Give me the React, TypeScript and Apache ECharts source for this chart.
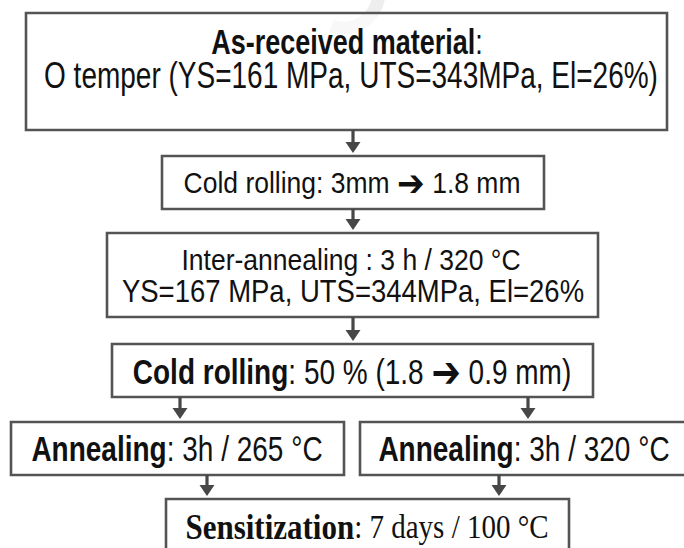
import React, { useEffect, useRef } from "react";
import * as echarts from "echarts";

// ---- content (flowchart steps) ----
const boldParts = ["As-received material", "", "", "Cold rolling", "Annealing", "Annealing", "Sensitization"];
const plainParts = [
  ":",
  "Cold rolling: 3mm ➔ 1.8 mm",
  "Inter-annealing : 3 h / 320 °C",
  ": 50 % (1.8 ➔ 0.9 mm)",
  ": 3h / 265 °C",
  ": 3h / 320 °C",
  ": 7 days / 100 °C",
];
const secondLines = [
  "O temper (YS=161 MPa, UTS=343MPa, El=26%)",
  "",
  "YS=167 MPa, UTS=344MPa, El=26%",
  "",
  "",
  "",
  "",
];
// links: [from step, to step]
const links = [
  [0, 1],
  [1, 2],
  [2, 3],
  [3, 4],
  [3, 5],
  [4, 6],
  [5, 6],
];

// ---- layout (positions / sizes) ----
const boxRects = [
  [26, 13, 641, 117],
  [162, 156, 382, 53],
  [107, 233, 491, 84],
  [112, 344, 481, 53],
  [11, 422, 333, 53],
  [360, 422, 340, 53],
  [166, 499, 403, 70],
];
// [x, y, fontSize, scaleY] for first line
const line1Pos = [
  [347, 42, 27, 1.3],
  [352, 183, 26.5, 1.12],
  [351, 259, 26.5, 1.14],
  [352, 372, 28, 1.24],
  [177, 449, 28, 1.24],
  [524, 449, 28, 1.24],
  [367, 527, 30, 1.15],
];
const line2Pos = [
  [351, 76, 28, 1.3],
  null,
  [353, 291, 27.5, 1.14],
  null,
  null,
  null,
  null,
];
// arrow x positions for each link
const linkX = [353, 353, 353, 180, 528, 207, 499];

const SANS = "'Liberation Sans', Arial, Helvetica, sans-serif";
const SERIF = "'Liberation Serif', 'Times New Roman', serif";
const BORDER = "#545454";
const ARROW = "#474747";

function richText(bold: string, plain: string) {
  let s = bold ? `{b|${bold}}` : "";
  const parts = plain.split("➔");
  parts.forEach((p, i) => {
    if (i > 0) s += "{a|➔}";
    if (p) s += `{n|${p}}`;
  });
  return s;
}

export default function App() {
  const ref = useRef<HTMLDivElement>(null);

  useEffect(() => {
    if (!ref.current) return;
    const chart = echarts.init(ref.current, null, { renderer: "svg" });
    const elements: any[] = [];

    // faint watermark fragment
    elements.push({
      type: "arc",
      shape: { cx: 343, cy: -8, r: 36, startAngle: 0.05, endAngle: 1.9, clockwise: true },
      style: { stroke: "#eeeeee", lineWidth: 13, fill: null },
      z: 1,
    });

    boxRects.forEach((r, i) => {
      elements.push({
        type: "rect",
        shape: { x: r[0], y: r[1], width: r[2], height: r[3] },
        style: { fill: "rgba(255,255,255,0.6)", stroke: BORDER, lineWidth: 2.6 },
        z: 2,
      });
      const p = line1Pos[i];
      const serif = i === 6;
      const fam = serif ? SERIF : SANS;
      elements.push({
        type: "text",
        x: p[0],
        y: p[1],
        scaleY: p[3],
        z: 5,
        style: {
          text: richText(boldParts[i], plainParts[i]),
          x: 0,
          y: 0,
          align: "center",
          verticalAlign: "middle",
          textAlign: "center",
          textVerticalAlign: "middle",
          fill: "#111",
          rich: {
            b: { fontFamily: fam, fontSize: serif ? 31 : p[2], fontWeight: "bold", fill: "#111" },
            n: { fontFamily: fam, fontSize: serif ? 29 : p[2], fontWeight: "normal", fill: "#111" },
            a: { fontFamily: "'DejaVu Sans', sans-serif", fontSize: p[2] * 1.25, fontWeight: "bold", fill: "#111" },
          },
        },
      });
      const q = line2Pos[i];
      if (q && secondLines[i]) {
        elements.push({
          type: "text",
          x: q[0],
          y: q[1],
          scaleY: q[3],
          z: 5,
          style: {
            text: secondLines[i],
            x: 0,
            y: 0,
            align: "center",
            verticalAlign: "middle",
            textAlign: "center",
            textVerticalAlign: "middle",
            fill: "#111",
            fontFamily: SANS,
            fontSize: q[2],
          },
        });
      }
    });

    links.forEach((l, k) => {
      const from = boxRects[l[0]];
      const to = boxRects[l[1]];
      const x = linkX[k];
      const y0 = from[1] + from[3];
      const tip = to[1] - 3;
      elements.push({
        type: "line",
        shape: { x1: x, y1: y0, x2: x, y2: tip - 8 },
        style: { stroke: ARROW, lineWidth: 3.2 },
        z: 3,
      });
      elements.push({
        type: "polygon",
        shape: { points: [[x - 7.5, tip - 11], [x + 7.5, tip - 11], [x, tip]] },
        style: { fill: ARROW },
        z: 3,
      });
    });

    chart.setOption({ animation: false, graphic: { elements } });
    return () => chart.dispose();
  }, []);

  return (
    <div
      ref={ref}
      style={{ position: "fixed", left: 0, top: 0, width: 684, height: 548, background: "#ffffff" }}
    />
  );
}
